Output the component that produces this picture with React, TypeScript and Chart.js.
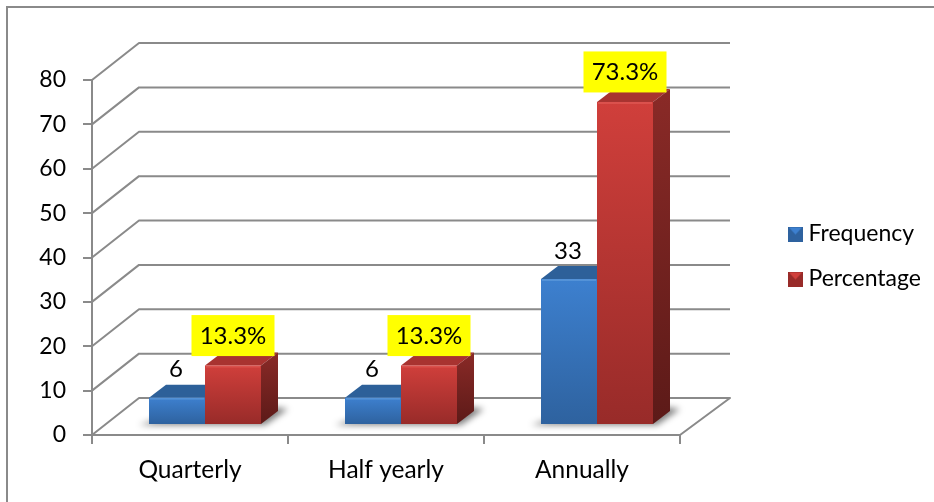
import React, { useEffect, useRef } from "react";
import { Chart, registerables } from "chart.js";

Chart.register(...registerables);

const categories = ["Quarterly", "Half yearly", "Annually"];
const frequency = [6, 6, 33];
const percentage = [13.3, 13.3, 73.3];
const yTicks = [0, 10, 20, 30, 40, 50, 60, 70, 80];

const FONT = "Lato";
const GREY = "#8a8a8a";
// Oblique offsets of the 3D projection
const WALL = { dx: 47, dy: 37 };
const BAR_SHIFT = { dx: 15, dy: 11 };
const BAR_DEPTH = { dx: 17, dy: 13 };

const BLUE = { hi: "#3d80cf", lo: "#2e629f", top: "#2d6099", sideHi: "#24507f", sideLo: "#1c3e63", bevel: "rgba(120,175,230,0.4)" };
const RED = { hi: "#d03f3b", lo: "#982b29", top: "#a83330", sideHi: "#8a2a27", sideLo: "#5c1a18", bevel: "rgba(235,110,105,0.4)" };

function swatch(c: typeof BLUE): HTMLCanvasElement {
  const cv = document.createElement("canvas");
  cv.width = 15;
  cv.height = 15;
  const g = cv.getContext("2d")!;
  g.fillStyle = c.lo;
  g.fillRect(0, 0, 15, 15);
  // Pyramid-shaped highlight on the upper half of the key
  g.fillStyle = c.hi;
  g.beginPath();
  g.moveTo(1, 1);
  g.lineTo(14, 1);
  g.lineTo(7.5, 8);
  g.closePath();
  g.fill();
  return cv;
}

function faceGradient(ctx: CanvasRenderingContext2D, y0: number, y1: number, a: string, b: string) {
  const grad = ctx.createLinearGradient(0, y0, 0, y1);
  grad.addColorStop(0, a);
  grad.addColorStop(1, b);
  return grad;
}

const framePlugin = {
  id: "frame",
  beforeDraw(chart: any) {
    const { ctx, width, height } = chart;
    ctx.save();
    ctx.strokeStyle = GREY;
    ctx.lineWidth = 2;
    ctx.beginPath();
    ctx.moveTo(7, height);
    ctx.lineTo(7, 7);
    ctx.lineTo(width, 7);
    ctx.stroke();
    ctx.restore();
  },
};

// Places the key to the right of the plot
const legendPlacer = {
  id: "legendPlacer",
  afterLayout(chart: any) {
    const l = chart.legend;
    l.left = 772;
    l.right = 930;
    l.top = 200.5;
    l.bottom = 320;
  },
};

// Back wall and floor of the 3D frame
const wallPlugin = {
  id: "wall",
  beforeDatasetsDraw(chart: any) {
    const { ctx, chartArea, scales } = chart;
    const { left, right, bottom } = chartArea;
    ctx.save();
    ctx.strokeStyle = GREY;
    ctx.lineWidth = 2;
    ctx.lineJoin = "round";
    for (const v of yTicks) {
      const y = scales.y.getPixelForValue(v);
      ctx.beginPath();
      ctx.moveTo(left, y);
      ctx.lineTo(left + WALL.dx, y - WALL.dy);
      ctx.lineTo(right + 50, y - WALL.dy);
      if (v === 0) ctx.lineTo(right, bottom);
      ctx.stroke();
    }
    ctx.restore();
  },
};

// Floor shadows, tops and side faces; the library paints the front faces afterwards
const solidsPlugin = {
  id: "solids",
  beforeDatasetsDraw(chart: any) {
    const { ctx } = chart;
    const metas = [chart.getDatasetMeta(0), chart.getDatasetMeta(1)];
    const palette = [BLUE, RED];
    ctx.save();
    ctx.translate(BAR_SHIFT.dx, -BAR_SHIFT.dy);

    categories.forEach((_, i) => {
      const a = metas[0].data[i] as any;
      const b = metas[1].data[i] as any;
      const x0 = a.x - a.width / 2;
      const x1 = b.x + b.width / 2;
      const base = a.base;
      ctx.save();
      ctx.filter = "blur(3px)";
      ctx.fillStyle = "rgba(0,0,0,0.5)";
      ctx.beginPath();
      ctx.moveTo(x0 - 10, base + 1);
      ctx.lineTo(x1 + 4, base + 1);
      ctx.lineTo(x1 + BAR_DEPTH.dx + 10, base - BAR_DEPTH.dy - 2);
      ctx.lineTo(x1 + BAR_DEPTH.dx - 6, base - BAR_DEPTH.dy - 4);
      ctx.lineTo(x0 + 6, base - 4);
      ctx.closePath();
      ctx.fill();
      ctx.restore();
    });

    metas.forEach((meta, d) => {
      const c = palette[d];
      meta.data.forEach((el: any) => {
        const l = el.x - el.width / 2;
        const r = el.x + el.width / 2;
        const { dx, dy } = BAR_DEPTH;
        ctx.fillStyle = c.top;
        ctx.beginPath();
        ctx.moveTo(l, el.y);
        ctx.lineTo(l + dx, el.y - dy);
        ctx.lineTo(r + dx, el.y - dy);
        ctx.lineTo(r, el.y);
        ctx.closePath();
        ctx.fill();
        ctx.fillStyle = faceGradient(ctx, el.y - dy, el.base, c.sideHi, c.sideLo);
        ctx.beginPath();
        ctx.moveTo(r, el.y);
        ctx.lineTo(r + dx, el.y - dy);
        ctx.lineTo(r + dx, el.base - dy);
        ctx.lineTo(r, el.base);
        ctx.closePath();
        ctx.fill();
      });
    });
    ctx.restore();

    ctx.save();
    ctx.translate(BAR_SHIFT.dx, -BAR_SHIFT.dy);
  },
  afterDatasetsDraw(chart: any) {
    const { ctx } = chart;
    const metas = [chart.getDatasetMeta(0), chart.getDatasetMeta(1)];
    const palette = [BLUE, RED];
    // Thin bevel along the upper edge of each front face
    metas.forEach((meta, d) => {
      meta.data.forEach((el: any) => {
        ctx.fillStyle = palette[d].bevel;
        ctx.fillRect(el.x - el.width / 2 + 1, el.y, el.width - 2, 2);
      });
    });
    ctx.restore();
  },
};

// Value labels above each bar
const labelsPlugin = {
  id: "valueLabels",
  afterDatasetsDraw(chart: any) {
    const { ctx } = chart;
    ctx.save();
    ctx.font = `24px ${FONT}`;
    ctx.textAlign = "center";
    ctx.textBaseline = "middle";
    chart.getDatasetMeta(0).data.forEach((el: any, i: number) => {
      ctx.fillStyle = "#000";
      ctx.fillText(String(frequency[i]), el.x + BAR_SHIFT.dx - 1, el.y - BAR_SHIFT.dy - 28);
    });
    chart.getDatasetMeta(1).data.forEach((el: any, i: number) => {
      const cx = el.x + BAR_SHIFT.dx;
      const bottom = el.y - BAR_SHIFT.dy - 9.5;
      ctx.fillStyle = "#ffff00";
      ctx.fillRect(cx - 41.5, bottom - 41, 83, 41);
      ctx.fillStyle = "#000";
      ctx.fillText(`${percentage[i]}%`, cx, bottom - 20);
    });
    ctx.restore();
  },
};

function frontFill(c: typeof BLUE) {
  return (context: any) => {
    const { chart, parsed } = context;
    const scale = chart.scales.depth;
    if (!parsed || !scale) return c.hi;
    const top = scale.getPixelForValue(parsed.y);
    const base = scale.getPixelForValue(0);
    // The scale has no pixel range until the first layout has run
    if (!Number.isFinite(top) || !Number.isFinite(base)) return c.hi;
    return faceGradient(chart.ctx, top, base, c.hi, c.lo);
  };
}

export default function App() {
  const ref = useRef<HTMLCanvasElement>(null);

  useEffect(() => {
    const swatches = [swatch(BLUE), swatch(RED)];
    const chart = new Chart(ref.current!, {
      type: "bar",
      data: {
        labels: categories,
        datasets: [
          { label: "Frequency", data: frequency, backgroundColor: frontFill(BLUE), yAxisID: "depth", clip: false } as any,
          { label: "Percentage", data: percentage, backgroundColor: frontFill(RED), yAxisID: "depth", clip: false } as any,
        ],
      },
      options: {
        responsive: false,
        animation: false,
        layout: { autoPadding: false, padding: { top: 80, right: 254, left: 0, bottom: 0 } },
        datasets: { bar: { categoryPercentage: 112 / 196, barPercentage: 1 } },
        scales: {
          x: {
            grid: { drawOnChartArea: false, color: GREY, tickLength: 9, lineWidth: 2 },
            border: { color: GREY, width: 2 },
            ticks: { color: "#000", font: { family: FONT, size: 24.5 }, padding: 11, maxRotation: 0 },
            afterFit: (s: any) => { s.height = 67; },
          },
          y: {
            min: 0,
            max: 80,
            grid: { drawOnChartArea: false, color: GREY, tickLength: 9, lineWidth: 2 },
            border: { color: GREY, width: 2 },
            ticks: { color: "#000", font: { family: FONT, size: 23 }, padding: 17, stepSize: 10, autoSkip: false },
            afterFit: (s: any) => { s.width = 92; },
          },
          // Bars stand part-way into the floor, where the projection is slightly compressed
          depth: { display: false, min: 0, max: 80.8 },
        },
        plugins: {
          title: { display: false },
          tooltip: { enabled: false },
          legend: {
            position: "chartArea",
            align: "start",
            labels: {
              usePointStyle: true,
              boxWidth: 3,
              padding: 22,
              color: "#000",
              font: { family: FONT, size: 23 },
              generateLabels: (c: any) =>
                c.data.datasets.map((ds: any, i: number) => ({
                  text: ds.label,
                  datasetIndex: i,
                  fontColor: "#000",
                  hidden: false,
                  pointStyle: swatches[i],
                })),
            },
          },
        },
      } as any,
      plugins: [framePlugin, legendPlacer, wallPlugin, solidsPlugin, labelsPlugin],
    });
    return () => chart.destroy();
  }, []);

  return (
    <canvas
      ref={ref}
      width={934}
      height={502}
      style={{ position: "absolute", left: 0, top: 0, display: "block" }}
    />
  );
}
